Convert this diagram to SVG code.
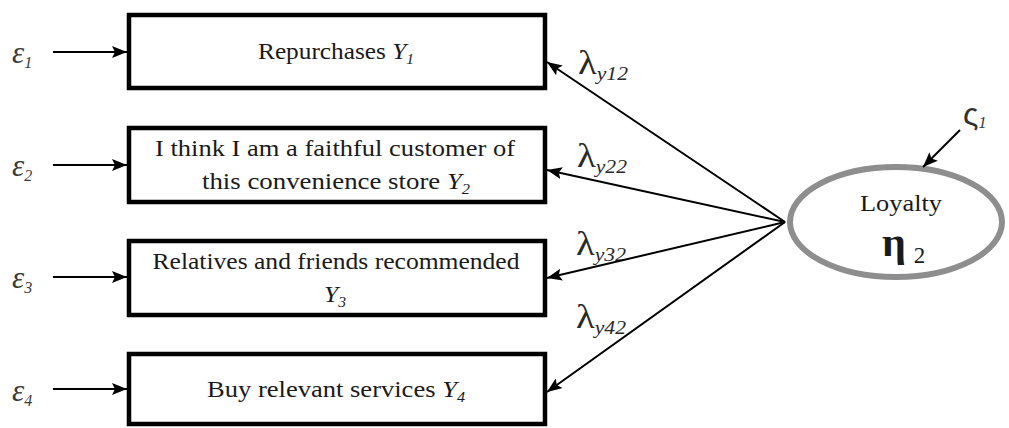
<svg xmlns="http://www.w3.org/2000/svg" width="1009" height="428" viewBox="0 0 1009 428">
  <style>
    .box { fill: #ffffff; stroke: #000000; stroke-width: 4.5; }
    .t { font-family: "Liberation Serif", "Times New Roman", serif; font-size: 23px; fill: #1a1a1a; }
    .it { font-style: italic; }
    .sub { font-style: italic; font-size: 14px; }
    .eps { font-family: "Liberation Serif", "Times New Roman", serif; font-size: 31px; font-style: italic; fill: #3a3a3a; }
    .esub { font-size: 16px; }
    .lam { font-family: "Liberation Serif", "Times New Roman", serif; font-size: 34px; fill: #2a2a2a; }
    .lsub { font-style: italic; font-size: 19px; }
    .edge { stroke: #000000; stroke-width: 2; fill: none; marker-end: url(#arr); }
  </style>
  <defs>
    <marker id="arr" viewBox="0 0 15 12" refX="15" refY="6" markerWidth="15" markerHeight="12" markerUnits="userSpaceOnUse" orient="auto">
      <path d="M0,0 L15,6 L0,12 L3,6 z" fill="#000000"/>
    </marker>
  </defs>

  <rect width="1009" height="428" fill="#ffffff"/>

  <!-- indicator Y1 -->
  <g id="y1">
    <rect class="box" x="129" y="15" width="416" height="73"/>
    <text class="t" x="336" y="59" text-anchor="middle" textLength="156" lengthAdjust="spacingAndGlyphs">Repurchases <tspan class="it">Y</tspan><tspan class="sub" dy="5">1</tspan></text>
  </g>

  <!-- indicator Y2 -->
  <g id="y2">
    <rect class="box" x="129" y="128" width="416" height="74"/>
    <text class="t" x="335" y="156" text-anchor="middle" textLength="360" lengthAdjust="spacingAndGlyphs">I think I am a faithful customer of</text>
    <text class="t" x="336" y="189" text-anchor="middle" textLength="268" lengthAdjust="spacingAndGlyphs">this convenience store <tspan class="it">Y</tspan><tspan class="sub" dy="5">2</tspan></text>
  </g>

  <!-- indicator Y3 -->
  <g id="y3">
    <rect class="box" x="129" y="241" width="416" height="74"/>
    <text class="t" x="336" y="269" text-anchor="middle" textLength="367" lengthAdjust="spacingAndGlyphs">Relatives and friends recommended</text>
    <text class="t" x="335" y="302" text-anchor="middle" textLength="22" lengthAdjust="spacingAndGlyphs"><tspan class="it">Y</tspan><tspan class="sub" dy="5">3</tspan></text>
  </g>

  <!-- indicator Y4 -->
  <g id="y4">
    <rect class="box" x="129" y="354" width="416" height="70"/>
    <text class="t" x="336" y="397" text-anchor="middle" textLength="258" lengthAdjust="spacingAndGlyphs">Buy relevant services <tspan class="it">Y</tspan><tspan class="sub" dy="5">4</tspan></text>
  </g>

  <!-- latent factor -->
  <g id="loyalty">
    <ellipse cx="896" cy="222" rx="106" ry="55" fill="#ffffff" stroke="#8e8e8e" stroke-width="6"/>
    <text class="t" x="901" y="211" text-anchor="middle" textLength="82" lengthAdjust="spacingAndGlyphs">Loyalty</text>
    <text x="882" y="256" font-family="'Liberation Serif', 'Times New Roman', serif" font-size="42" font-weight="bold" fill="#1a1a1a">η<tspan font-size="23" font-weight="normal" dx="8" dy="7">2</tspan></text>
  </g>

  <!-- error terms -->
  <g id="errors">
    <text class="eps" x="12" y="63">ε<tspan class="esub" dy="5">1</tspan></text>
    <text class="eps" x="12" y="176">ε<tspan class="esub" dy="5">2</tspan></text>
    <text class="eps" x="12" y="288">ε<tspan class="esub" dy="5">3</tspan></text>
    <text class="eps" x="12" y="401">ε<tspan class="esub" dy="5">4</tspan></text>
  </g>

  <!-- disturbance -->
  <g id="zeta">
    <text x="963" y="125" font-family="'Liberation Sans', Arial, sans-serif" font-size="32" fill="#333333">ς<tspan font-family="'Liberation Serif', serif" font-style="italic" font-size="16" dy="3">1</tspan></text>
  </g>

  <!-- loading labels -->
  <g id="loadings">
    <text class="lam" x="578" y="74" textLength="50" lengthAdjust="spacingAndGlyphs">λ<tspan class="lsub" dy="6">y12</tspan></text>
    <text class="lam" x="577" y="167" textLength="50" lengthAdjust="spacingAndGlyphs">λ<tspan class="lsub" dy="6">y22</tspan></text>
    <text class="lam" x="576" y="255" textLength="50" lengthAdjust="spacingAndGlyphs">λ<tspan class="lsub" dy="6">y32</tspan></text>
    <text class="lam" x="576" y="328" textLength="50" lengthAdjust="spacingAndGlyphs">λ<tspan class="lsub" dy="6">y42</tspan></text>
  </g>

  <!-- connectors -->
  <g id="connectors">
    <line class="edge" x1="53" y1="52" x2="127" y2="52"/>
    <line class="edge" x1="53" y1="165" x2="127" y2="165"/>
    <line class="edge" x1="53" y1="277" x2="127" y2="277"/>
    <line class="edge" x1="53" y1="389" x2="127" y2="389"/>
    <line class="edge" x1="785" y1="222" x2="547" y2="62"/>
    <line class="edge" x1="785" y1="222" x2="547" y2="170"/>
    <line class="edge" x1="785" y1="222" x2="547" y2="278"/>
    <line class="edge" x1="785" y1="222" x2="547" y2="392"/>
    <line class="edge" x1="960" y1="130" x2="923" y2="167"/>
  </g>
</svg>
